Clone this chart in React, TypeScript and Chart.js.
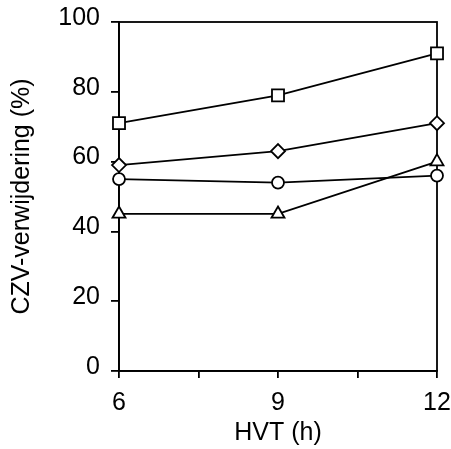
import React, { useEffect, useRef } from "react";
import { Chart, registerables } from "chart.js";

Chart.register(...registerables);

const hvt = [6, 9, 12];
const squares = [71, 79, 91];
const diamonds = [59, 63, 71];
const circles = [55, 54, 56];
const triangles = [45, 45, 60];

const FONT = "'Liberation Sans', Arial, sans-serif";

const framePlugin = {
  id: "frame",
  beforeDatasetsDraw(chart: any) {
    const { ctx, chartArea } = chart;
    ctx.save();
    ctx.strokeStyle = "#000";
    ctx.lineWidth = 1.8;
    ctx.strokeRect(chartArea.left, chartArea.top, chartArea.right - chartArea.left, chartArea.bottom - chartArea.top);
    ctx.restore();
  },
};

function ds(label: string, values: number[], pointStyle: string, radius: number) {
  return {
    label,
    data: hvt.map((x, i) => ({ x, y: values[i] })),
    borderColor: "#000",
    borderWidth: 1.8,
    backgroundColor: "#fff",
    pointStyle,
    pointRadius: radius,
    pointBackgroundColor: "#fff",
    pointBorderColor: "#000",
    pointBorderWidth: 1.8,
    tension: 0,
    clip: false,
  };
}

export default function App() {
  const ref = useRef<HTMLCanvasElement>(null);
  useEffect(() => {
    if (!ref.current) return;
    const chart = new Chart(ref.current, {
      type: "line",
      data: {
        datasets: [
          ds("squares", squares, "rect", 8.5),
          ds("diamonds", diamonds, "rectRot", 7),
          ds("circles", circles, "circle", 6),
          ds("triangles", triangles, "triangle", 7.5),
        ],
      },
      options: {
        animation: false,
        responsive: false,
        events: [],
        layout: { padding: { top: 22, right: 14, left: 0, bottom: 0 } },
        plugins: { legend: { display: false }, tooltip: { enabled: false } },
        scales: {
          x: {
            type: "linear",
            min: 6,
            max: 12,
            afterFit(scale: any) {
              scale.height = 78;
              scale.paddingLeft = 0;
              scale.paddingRight = 0;
            },
            border: { display: true, color: "#000", width: 1.8 },
            grid: { drawOnChartArea: false, drawTicks: true, tickLength: 7, color: "#000", lineWidth: 1.8 },
            ticks: {
              stepSize: 1.5,
              autoSkip: false,
              maxRotation: 0,
              padding: 10,
              color: "#000",
              font: { family: FONT, size: 25 },
              callback: (v: any) => (Number.isInteger(v) ? String(v) : ""),
            },
            title: {
              display: true,
              text: "HVT (h)",
              color: "#000",
              font: { family: FONT, size: 25, lineHeight: 1 },
              padding: { top: 0, bottom: 3 },
            },
          },
          y: {
            min: 0,
            max: 100,
            afterFit(scale: any) {
              scale.width = 119;
              scale.paddingTop = 0;
              scale.paddingBottom = 0;
            },
            border: { display: true, color: "#000", width: 1.8 },
            grid: { drawOnChartArea: false, drawTicks: true, tickLength: 8, color: "#000", lineWidth: 1.8 },
            ticks: {
              stepSize: 20,
              padding: 11,
              labelOffset: -4,
              color: "#000",
              font: { family: FONT, size: 25 },
            },
            title: {
              display: true,
              text: "CZV-verwijdering (%)",
              color: "#000",
              font: { family: FONT, size: 25, lineHeight: 1 },
              padding: { top: 10, bottom: 0 },
            },
          },
        },
      },
      plugins: [framePlugin],
    } as any);
    return () => chart.destroy();
  }, []);
  return (
    <div style={{ position: "fixed", left: 0, top: 0, width: 451, height: 449, background: "#fff" }}>
      <canvas ref={ref} width={451} height={449} style={{ display: "block" }} />
    </div>
  );
}
